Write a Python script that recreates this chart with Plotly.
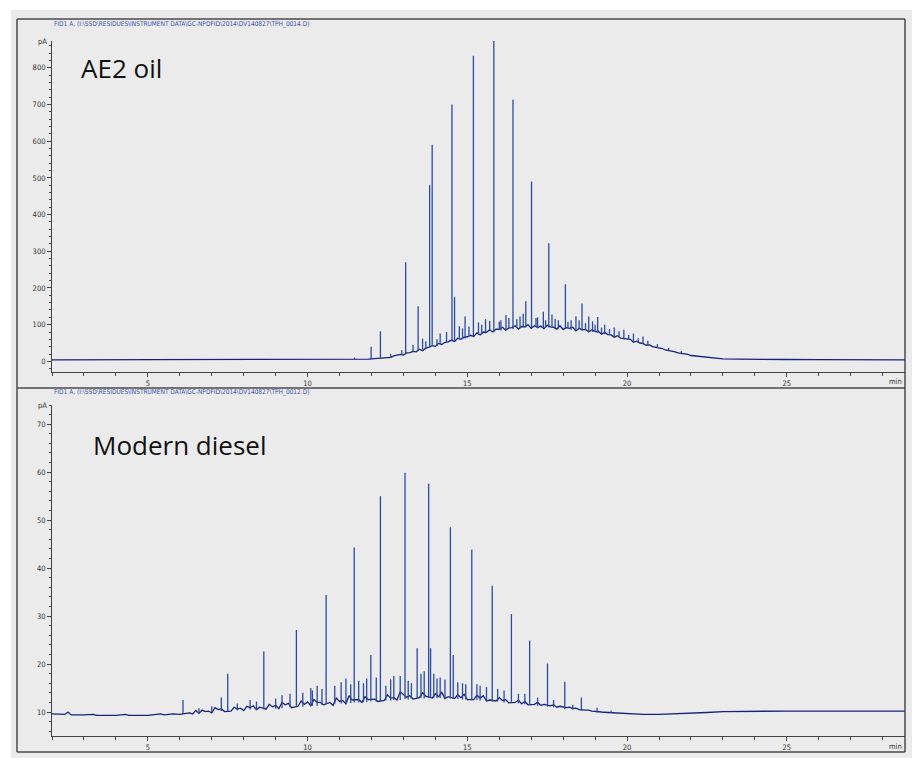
import plotly.graph_objects as go

W, H = 912, 758

# ---------------- data ----------------
# Top panel: AE2 oil — unresolved hump (time min, signal pA)
ae2_hump_t = [2.0, 4.0, 6.0, 8.0, 10.0, 11.0, 11.5, 11.9, 12.2, 12.4,
              12.5, 12.6, 12.7, 12.8, 12.9, 13.0, 13.1, 13.2, 13.3, 13.4,
              13.5, 13.6, 13.7, 13.8, 13.9, 14.0, 14.1, 14.2, 14.3, 14.4,
              14.5, 14.6, 14.7, 14.8, 14.9, 15.0, 15.1, 15.2, 15.3, 15.4,
              15.5, 15.6, 15.7, 15.8, 15.9, 16.0, 16.1, 16.2, 16.3, 16.4,
              16.5, 16.6, 16.7, 16.8, 16.9, 17.0, 17.1, 17.2, 17.3, 17.4,
              17.5, 17.6, 17.7, 17.8, 17.9, 18.0, 18.1, 18.2, 18.3, 18.4,
              18.5, 18.6, 18.7, 18.8, 18.9, 19.0, 19.1, 19.2, 19.3, 19.4,
              19.5, 19.6, 19.7, 19.8, 19.9, 20.0, 20.1, 20.2, 20.3, 20.4,
              20.5, 20.6, 20.7, 20.8, 20.9, 21.0, 21.1, 21.2, 21.3, 21.4,
              21.5, 21.6, 21.7, 21.8, 21.9, 22.0, 22.2, 22.4, 22.6, 22.8,
              23.0, 23.5, 24.0, 25.0, 26.0, 28.7]
ae2_hump_v = [4, 4, 4, 4, 4, 4.5, 5, 6, 8, 10,
              12, 11, 15, 16, 19, 17, 23, 24, 27, 26,
              33, 29, 36, 39, 43, 41, 49, 46, 52, 53,
              58, 54, 63, 60, 66, 67, 71, 68, 78, 72,
              80, 79, 86, 80, 88, 87, 93, 85, 91, 92,
              97, 88, 95, 94, 100, 90, 97, 92, 96, 89,
              98, 94, 93, 88, 97, 87, 92, 90, 93, 83,
              90, 86, 87, 80, 86, 81, 82, 74, 79, 73,
              72, 66, 70, 63, 62, 59, 60, 52, 55, 50,
              49, 44, 45, 40, 39, 36, 35, 31, 30, 27,
              26, 23, 22, 19, 19, 16, 14, 11, 9, 8,
              7, 6, 5, 5, 4.5, 4]
# resolved peaks and noise spikes: retention time, foot and apex (pA)
ae2_peak_t = [11.47, 11.99, 12.28, 12.60, 12.95, 13.07, 13.30, 13.46, 13.60, 13.70,
              13.82, 13.90, 14.05, 14.15, 14.35, 14.52, 14.60, 14.75, 14.85, 14.93,
              15.05, 15.19, 15.35, 15.45, 15.57, 15.70, 15.83, 16.00, 16.05, 16.21,
              16.30, 16.43, 16.55, 16.65, 16.75, 16.83, 17.01, 17.15, 17.20, 17.38,
              17.45, 17.55, 17.65, 17.75, 17.85, 18.07, 18.15, 18.25, 18.40, 18.50,
              18.59, 18.70, 18.80, 18.92, 19.00, 19.08, 19.20, 19.30, 19.45, 19.60,
              19.75, 19.90, 20.05, 20.20, 20.35, 20.50, 20.65, 20.95, 21.30, 21.70]
ae2_peak_foot = [5, 6, 8, 11, 18, 20, 27, 28, 32, 36,
                 38, 42, 41, 48, 52, 55, 56, 60, 62, 62,
                 67, 68, 72, 74, 76, 84, 80, 87, 84, 86,
                 91, 88, 95, 90, 94, 92, 92, 95, 90, 92,
                 92, 92, 94, 90, 90, 88, 90, 86, 86, 88,
                 84, 86, 80, 80, 81, 78, 76, 74, 72, 66,
                 68, 60, 60, 52, 53, 46, 45, 39, 30, 22]
ae2_peak_apex = [10, 40, 82, 20, 30, 270, 45, 150, 62, 55,
                 480, 590, 60, 76, 80, 700, 175, 96, 90, 122,
                 95, 833, 106, 100, 115, 110, 877, 108, 112, 126,
                 118, 713, 115, 122, 130, 164, 490, 118, 120, 135,
                 112, 322, 128, 116, 112, 210, 108, 112, 123, 112,
                 158, 104, 122, 109, 100, 121, 92, 100, 88, 92,
                 82, 86, 72, 76, 63, 68, 56, 47, 37, 28]

# Bottom panel: modern diesel
dsl_hump_t = [2.0, 2.4, 2.5, 2.6, 3.0, 3.3, 3.4, 3.5, 4.0, 4.3, 4.4, 4.6, 5.0, 5.4, 5.5, 5.8, 6.0,
              6.3, 6.4, 6.5, 6.6, 6.7, 6.8, 6.9, 7.0, 7.1, 7.2, 7.3, 7.4, 7.6, 7.7, 7.8, 7.9,
              8.0, 8.1, 8.2, 8.3, 8.4, 8.5, 8.7, 8.8, 8.9, 9.0, 9.1, 9.2, 9.3, 9.4, 9.5,
              9.7, 9.8, 9.9, 10.0, 10.1, 10.2, 10.3, 10.4, 10.5, 10.7, 10.8, 10.9, 11.0,
              11.1, 11.2, 11.3, 11.4, 11.6, 11.7, 11.8, 11.9, 12.1, 12.2, 12.4, 12.5,
              12.6, 12.7, 12.8, 12.9, 13.1, 13.2, 13.3, 13.5, 13.6, 13.7, 13.9, 14.0,
              14.1, 14.2, 14.3, 14.4, 14.6, 14.7, 14.8, 14.9, 15.0, 15.2, 15.3, 15.4,
              15.5, 15.6, 15.7, 15.9, 16.0, 16.1, 16.2, 16.3, 16.5, 16.6, 16.7, 16.8,
              16.9, 17.1, 17.2, 17.3, 17.4, 17.6, 17.7, 17.8, 17.9, 18.1, 18.2, 18.3,
              18.4, 18.5, 18.7, 18.8, 18.9, 19.0, 19.2, 19.4, 19.6, 20.0, 20.5, 21.0,
              21.5, 22.0, 22.5, 23.0, 24.0, 25.0, 26.0, 27.0, 28.7]
dsl_hump_v = [9.6, 9.5, 10.0, 9.4, 9.4, 9.5, 9.3, 9.3, 9.3, 9.5, 9.3, 9.3, 9.3, 9.6, 9.4, 9.6, 9.5,
              9.8, 9.6, 10.3, 9.7, 10.4, 10.1, 10.2, 9.8, 10.9, 10.5, 10.7, 10.1, 10.2, 11.0, 10.6, 10.8,
              10.3, 11.2, 10.9, 11.3, 10.5, 11.0, 10.6, 11.6, 11.1, 11.4, 10.7, 12.0, 11.5, 11.8, 10.9,
              11.2, 12.3, 11.6, 12.1, 11.3, 12.6, 12.0, 12.0, 11.5, 12.0, 11.4, 12.9, 12.2,
              12.4, 11.7, 13.4, 12.5, 12.6, 12.0, 13.2, 12.6, 12.7, 12.2, 12.4, 13.6,
              12.9, 13.0, 12.5, 14.2, 13.1, 13.4, 12.7, 13.0, 14.0, 13.3, 12.9, 13.8,
              13.2, 14.1, 12.8, 13.2, 12.8, 13.6, 13.0, 13.7, 12.6, 12.6, 13.5, 12.9,
              13.4, 12.3, 12.5, 12.3, 13.0, 12.4, 12.6, 11.9, 12.0, 12.5, 11.7, 12.2,
              11.5, 11.6, 12.0, 11.4, 11.6, 11.3, 11.5, 11.0, 11.2, 10.9, 11.0, 10.7,
              10.8, 10.5, 10.4, 10.4, 10.2, 10.1, 10.0, 9.9, 9.8, 9.6, 9.5, 9.5,
              9.6, 9.7, 9.9, 10.1, 10.2, 10.2, 10.2, 10.2, 10.2]
dsl_peak_t = [6.10, 6.60, 7.00, 7.30, 7.50, 7.80, 8.20, 8.40, 8.63, 9.00,
              9.20, 9.45, 9.65, 9.85, 10.10, 10.15, 10.30, 10.45, 10.58, 10.85,
              11.05, 11.20, 11.35, 11.46, 11.60, 11.75, 11.85, 11.98, 12.15, 12.28,
              12.45, 12.60, 12.70, 12.90, 13.05, 13.15, 13.25, 13.43, 13.55, 13.65,
              13.79, 13.85, 13.95, 14.05, 14.15, 14.30, 14.47, 14.56, 14.70, 14.85,
              14.95, 15.14, 15.30, 15.40, 15.60, 15.78, 15.95, 16.15, 16.38, 16.60,
              16.80, 16.95, 17.20, 17.51, 17.70, 18.05, 18.30, 18.57, 19.06, 19.50]
dsl_peak_foot = [9.6, 9.8, 10.0, 10.2, 10.2, 10.3, 10.5, 10.4, 10.6, 10.7,
                 10.8, 11.0, 11.0, 11.1, 11.3, 11.3, 11.3, 11.5, 11.6, 11.7,
                 11.8, 11.9, 11.9, 12.0, 12.0, 12.1, 12.1, 12.2, 12.2, 12.4,
                 12.4, 12.4, 12.5, 12.5, 12.7, 12.6, 12.8, 12.8, 12.9, 12.8,
                 12.9, 12.9, 12.9, 12.9, 12.9, 12.8, 12.8, 12.7, 12.7, 12.6,
                 12.6, 12.5, 12.5, 12.4, 12.3, 12.2, 12.2, 12.0, 11.9, 11.8,
                 11.6, 11.5, 11.3, 11.1, 11.0, 10.6, 10.5, 10.3, 9.9, 9.8]
dsl_peak_apex = [12.5, 10.8, 11.2, 13.0, 18.0, 11.8, 12.5, 12.2, 22.6, 12.8,
                 13.5, 13.8, 27.1, 14.0, 15.0, 14.5, 15.5, 14.8, 34.4, 15.5,
                 16.2, 17.0, 15.8, 44.3, 16.5, 16.0, 17.0, 21.9, 17.2, 55.0,
                 15.5, 16.8, 17.5, 17.5, 59.9, 16.5, 16.0, 23.3, 18.0, 18.5,
                 57.6, 23.3, 18.0, 17.0, 17.2, 16.8, 48.5, 21.9, 16.2, 16.0,
                 15.8, 43.9, 15.8, 15.5, 15.2, 36.3, 14.8, 14.5, 30.4, 13.8,
                 13.8, 24.9, 13.0, 20.1, 12.5, 16.3, 11.5, 13.0, 10.9, 10.3]

x_major = [5, 10, 15, 20, 25]
top_ticks = [0, 100, 200, 300, 400, 500, 600, 700, 800]
bot_ticks = [10, 20, 30, 40, 50, 60, 70]

header_top = r"FID1 A, (I:\SSD\RESIDUES\INSTRUMENT DATA\GC-NPDFID\2014\DV140827\TPH_0014.D)"
header_bot = r"FID1 A, (I:\SSD\RESIDUES\INSTRUMENT DATA\GC-NPDFID\2014\DV140827\TPH_0012.D)"

# ---------------- figure ----------------
def px(x):
    return x / W

def py(y):
    return 1 - y / H

HUMP = "#16227c"
PEAK = "#2a4ba4"
AXC = "#444444"
TICKFONT = dict(family="Liberation Sans Narrow, DejaVu Sans Condensed, sans-serif", size=7.5, color="#333333")


def peak_segments(ts, feet, apexes):
    xs, ys = [], []
    for t, f, a in zip(ts, feet, apexes):
        xs += [t, t, None]
        ys += [f, a, None]
    return xs, ys


fig = go.Figure()
fig.add_trace(go.Scatter(x=ae2_hump_t, y=ae2_hump_v, mode="lines",
                         line=dict(color=HUMP, width=1.3), xaxis="x", yaxis="y", hoverinfo="skip"))
sx, sy = peak_segments(ae2_peak_t, ae2_peak_foot, ae2_peak_apex)
fig.add_trace(go.Scatter(x=sx, y=sy, mode="lines", line=dict(color=PEAK, width=1.3),
                         xaxis="x", yaxis="y", hoverinfo="skip"))
fig.add_trace(go.Scatter(x=dsl_hump_t, y=dsl_hump_v, mode="lines",
                         line=dict(color=HUMP, width=1.3), xaxis="x2", yaxis="y2", hoverinfo="skip"))
sx, sy = peak_segments(dsl_peak_t, dsl_peak_foot, dsl_peak_apex)
fig.add_trace(go.Scatter(x=sx, y=sy, mode="lines", line=dict(color=PEAK, width=1.3),
                         xaxis="x2", yaxis="y2", hoverinfo="skip"))

xdom = [px(52), px(905)]
top_dom = [py(372), py(41)]
bot_dom = [py(736), py(405)]

xaxis_common = dict(range=[2.0, 28.7], tickvals=x_major, ticks="outside", ticklen=4,
                    tickcolor=AXC, tickwidth=1, showline=True, linecolor=AXC, linewidth=1,
                    showgrid=False, zeroline=False, tickfont=TICKFONT, domain=xdom,
                    minor=dict(dtick=1, tick0=0, ticks="outside", ticklen=3, tickcolor=AXC,
                               showgrid=False))

fig.update_layout(
    width=W, height=H, margin=dict(l=0, r=0, t=0, b=0),
    paper_bgcolor="white", plot_bgcolor="rgba(0,0,0,0)", showlegend=False,
    xaxis=dict(xaxis_common, anchor="y"),
    yaxis=dict(domain=top_dom, range=[-29, 873], tickvals=top_ticks, ticks="outside", ticklen=4,
               tickcolor=AXC, showline=True, linecolor=AXC, linewidth=1, showgrid=False,
               zeroline=False, tickfont=TICKFONT, anchor="x",
               minor=dict(dtick=20, tick0=0, ticks="outside", ticklen=2, tickcolor=AXC, showgrid=False)),
    xaxis2=dict(xaxis_common, anchor="y2"),
    yaxis2=dict(domain=bot_dom, range=[5, 74], tickvals=bot_ticks, ticks="outside", ticklen=4,
                tickcolor=AXC, showline=True, linecolor=AXC, linewidth=1, showgrid=False,
                zeroline=False, tickfont=TICKFONT, anchor="x2",
                minor=dict(dtick=2, tick0=0, ticks="outside", ticklen=2, tickcolor=AXC, showgrid=False)),
)

shapes = [
    dict(type="rect", xref="paper", yref="paper", x0=px(11), x1=1, y0=0, y1=py(10),
         fillcolor="#ebebec", line=dict(width=0), layer="below"),
]
for (x0, y0, x1, y1) in [(17, 19, 905, 19), (17, 19, 17, 752), (905, 19, 905, 752),
                         (17, 388, 905, 388), (17, 752, 905, 752)]:
    shapes.append(dict(type="line", xref="paper", yref="paper", x0=px(x0), y0=py(y0),
                       x1=px(x1), y1=py(y1), line=dict(color="#4a4a4a", width=1.5)))
fig.update_layout(shapes=shapes)

HDRFONT = dict(family="Liberation Sans Narrow, DejaVu Sans Condensed, sans-serif", size=6.5, color="#3553ad")
ann = [
    dict(text=header_top, x=px(52), y=py(24), xanchor="left", yanchor="middle", font=HDRFONT),
    dict(text=header_bot, x=px(52), y=py(392), xanchor="left", yanchor="middle", font=HDRFONT),
    dict(text="pA", x=px(42), y=py(41), xanchor="center", yanchor="middle", font=TICKFONT),
    dict(text="pA", x=px(42), y=py(405), xanchor="center", yanchor="middle", font=TICKFONT),
    dict(text="min", x=px(904), y=py(381), xanchor="right", yanchor="middle", font=TICKFONT),
    dict(text="min", x=px(904), y=py(746), xanchor="right", yanchor="middle", font=TICKFONT),
    dict(text="AE2 oil", x=px(79), y=py(68), xanchor="left", yanchor="middle",
         font=dict(family="Open Sans, sans-serif", size=26, color="#111111")),
    dict(text="Modern diesel", x=px(91), y=py(445), xanchor="left", yanchor="middle",
         font=dict(family="Open Sans, sans-serif", size=26, color="#111111")),
]
for a in ann:
    a.update(xref="paper", yref="paper", showarrow=False)
fig.update_layout(annotations=ann)

fig.write_html("out.html")
